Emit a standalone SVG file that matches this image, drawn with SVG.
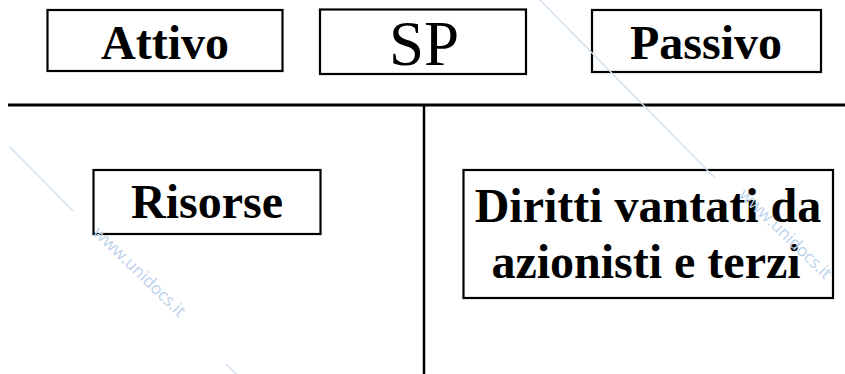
<svg xmlns="http://www.w3.org/2000/svg" width="845" height="374" viewBox="0 0 845 374">
<rect width="845" height="374" fill="#fff"/>
<g id="connectors" stroke="#000" fill="none">
<line x1="8" y1="105" x2="845" y2="105" stroke-width="3"/>
<line x1="424" y1="105" x2="424" y2="374" stroke-width="2.5"/>
</g>
<g id="attivo">
<rect x="47.5" y="10" width="235" height="61" fill="#fff" stroke="#000" stroke-width="2.2"/>
<text x="165" y="59" font-family="Liberation Serif" font-weight="bold" font-size="48" text-anchor="middle" style="font-family:'Liberation Serif',serif !important">Attivo</text>
</g>
<g id="sp">
<rect x="320" y="9.5" width="206" height="64.5" fill="#fff" stroke="#000" stroke-width="2.2"/>
<text x="424" y="65" font-family="Liberation Serif" font-weight="normal" font-size="63" text-anchor="middle" style="font-family:'Liberation Serif',serif !important">SP</text>
</g>
<g id="passivo">
<rect x="592" y="10" width="229" height="62" fill="#fff" stroke="#000" stroke-width="2.2"/>
<text x="706" y="59" font-family="Liberation Serif" font-weight="bold" font-size="48" text-anchor="middle" style="font-family:'Liberation Serif',serif !important">Passivo</text>
</g>
<g id="risorse">
<rect x="93.5" y="170" width="227" height="64" fill="#fff" stroke="#000" stroke-width="2.2"/>
<text x="207" y="218" font-family="Liberation Serif" font-weight="bold" font-size="48" text-anchor="middle" style="font-family:'Liberation Serif',serif !important">Risorse</text>
</g>
<g id="diritti">
<rect x="463.5" y="170" width="369.5" height="128" fill="#fff" stroke="#000" stroke-width="2.2"/>
<text x="648" y="222" font-family="Liberation Serif" font-weight="bold" font-size="48" text-anchor="middle" style="font-family:'Liberation Serif',serif !important">Diritti vantati da</text>
<text x="646" y="278" font-family="Liberation Serif" font-weight="bold" font-size="48" text-anchor="middle" style="font-family:'Liberation Serif',serif !important">azionisti e terzi</text>
</g>
<g id="watermark" stroke="#d2e2f2" stroke-width="1.5" fill="none">
<line x1="10" y1="147" x2="73" y2="211"/>
<line x1="226" y1="364" x2="240" y2="378"/>
<line x1="536" y1="-4" x2="715" y2="178"/>
<text transform="translate(92,234) rotate(44)" font-family="Open Sans" font-size="17" fill="#bcd2ea" stroke="none">www.unidocs.it</text>
<text transform="translate(738,196) rotate(44)" font-family="Open Sans" font-size="17" fill="#bcd2ea" stroke="none">www.unidocs.it</text>
</g>
</svg>
